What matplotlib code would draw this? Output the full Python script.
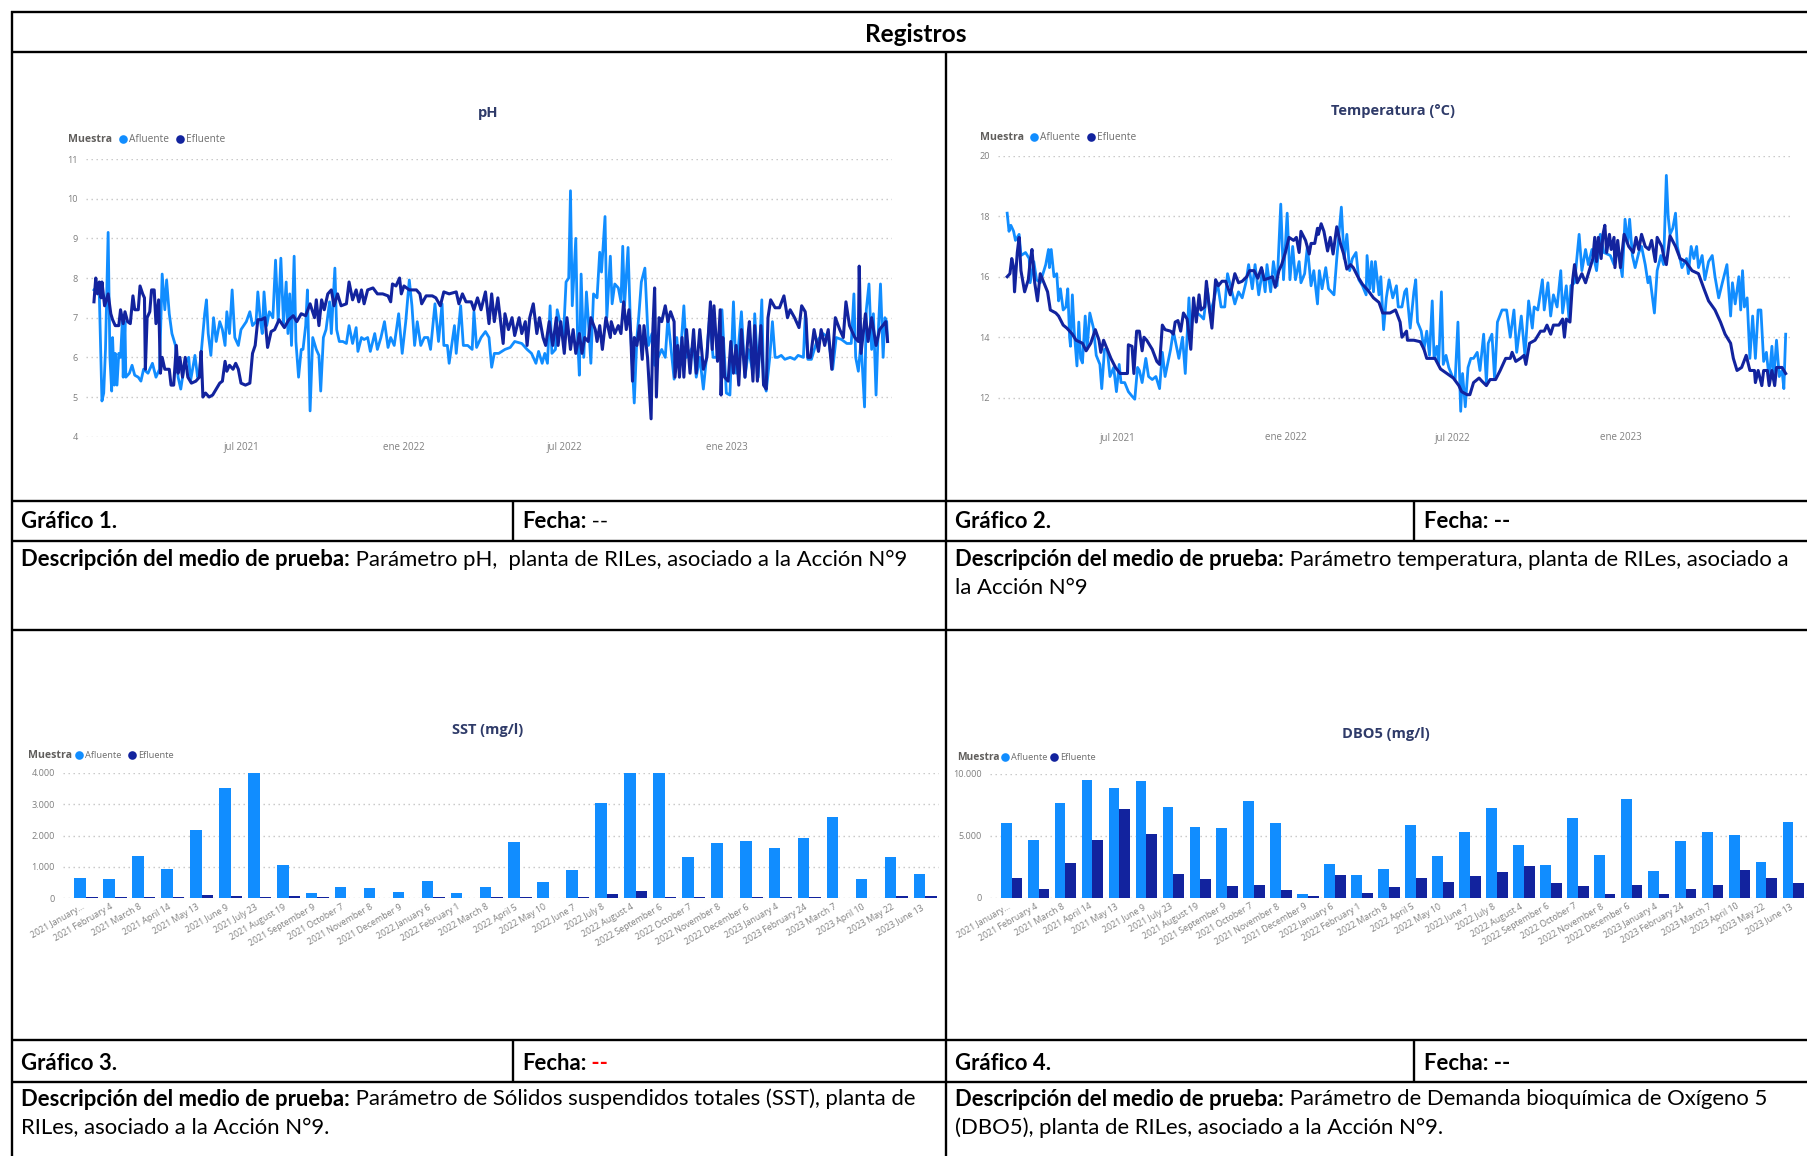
import datetime as dt
import matplotlib
matplotlib.use("Agg")
import matplotlib.pyplot as plt
import matplotlib.dates as mdates
from matplotlib.lines import Line2D
from matplotlib.transforms import ScaledTranslation
import numpy as np

W, H = 1808, 1156
BODY_FONT = ["Lato", "DejaVu Sans"]
UI_FONT = ["Open Sans", "DejaVu Sans"]
C_AFL = "#118DFF"
C_EFL = "#12239E"
C_TITLE = "#2F3B69"
C_TICK = "#7F7F7F"
C_GRID = "#C4C4C4"

# ---------- data ----------
ph_start = dt.date(2021, 1, 16)
ph_afl_days = [0,6,9,11,13,16,18,20,21,23,24,26,28,30,32,33,35,36,40,43,46,50,53,56,61,66,70,74,77,80,82,85,88,92,95,98,102,107,109,114,117,119,125,127,129,132,135,138,142,145,148,150,153,156,159,163,166,172,176,179,183,185,188,190,192,195,198,202,205,208,211,214,217,219,221,223,226,228,231,234,236,239,241,244,247,251,254,256,259,262,266,268,272,274,277,281,285,288,292,296,298,302,305,309,312,317,320,324,328,332,335,339,344,348,352,356,359,362,365,369,373,377,380,385,389,393,395,399,401,407,409,414,417,422,427,429,432,437,442,446,449,452,457,
464,470,475,483,489,494,499,502,506,509,512,515,517,521,523,526,530,533,536,538,540,544,546,548,550,553,556,558,561,564,568,571,573,577,579,583,585,588,592,595,597,599,603,606,610,613,615,618,622,626,630,633,637,641,645,648,652,655,658,661,666,669,677,680,684,688,692,695,699,703,709,714,718,722,725,731,735,739,744,746,750,754,756,759,763,766,769,772,776,780,786,791,795,801,803,806,810,816,823,829,834,838,844,850,855,858,860,863,866,870,872,875,878,880,883,885,888,891,893,895,896]
ph_afl_vals = [7.7,7.6,4.9,5.1,6.2,9.15,6.0,5.15,6.5,5.3,6.1,5.3,6.1,6.0,6.9,5.5,6.9,5.5,5.6,5.8,5.55,5.5,5.4,5.7,5.6,5.85,5.5,5.7,8.1,7.2,7.95,7.1,6.6,6.3,5.5,5.2,5.8,6.0,5.4,6.05,5.5,5.6,7.1,7.45,6.6,6.05,7.0,6.4,6.9,6.7,6.3,7.15,6.6,7.7,6.5,6.3,6.7,6.9,7.15,6.8,6.9,7.65,6.9,6.6,7.65,6.8,7.15,7.0,8.45,6.9,8.5,6.85,7.9,6.6,7.6,6.3,8.55,6.4,5.5,6.2,6.2,6.8,7.7,4.65,6.5,6.2,6.05,5.15,6.5,6.7,7.4,6.6,8.25,6.7,6.4,6.4,6.35,6.8,6.35,6.75,6.15,6.5,6.45,6.5,6.15,6.6,6.2,6.5,6.9,6.25,6.5,6.3,7.1,6.1,6.9,7.95,7.3,6.3,6.9,6.3,6.5,6.5,6.2,7.35,6.4,7.35,6.3,6.3,5.85,6.8,6.1,7.3,6.3,6.3,6.2,7.15,6.25,6.5,6.65,6.5,5.75,6.1,6.1,
6.2,6.25,6.4,6.35,6.2,6.1,5.85,6.15,5.85,6.1,5.85,7.3,6.1,6.2,7.2,6.9,6.5,7.9,8.0,10.2,7.3,9.0,6.5,5.55,8.1,6.0,7.65,7.0,5.85,7.6,7.5,8.65,8.15,9.55,7.0,8.55,7.35,7.85,7.75,7.4,8.8,7.3,8.77,6.6,4.85,6.5,7.0,7.9,8.25,6.3,6.6,5.8,6.0,6.2,6.0,7.0,6.1,5.45,6.5,5.7,7.3,6.0,6.3,5.5,6.0,5.2,6.1,7.0,6.0,6.0,7.2,5.1,5.05,7.4,5.6,7.15,5.5,6.2,5.6,7.1,5.5,7.45,5.4,5.15,6.0,6.9,6.0,6.0,6.05,5.95,6.0,5.95,6.05,6.0,7.05,5.95,5.95,6.4,6.6,6.5,5.7,6.5,6.45,6.35,6.35,7.6,6.0,5.65,6.4,4.75,7.2,7.85,6.2,7.1,5.05,6.4,7.85,6.0,7.0,6.9,6.4]
ph_efl_days = [0,2,4,6,8,9,12,16,19,21,24,28,30,33,35,38,41,44,46,50,52,55,57,58,60,63,65,68,70,73,75,77,80,85,87,90,93,95,97,100,103,106,110,115,119,121,123,126,130,134,138,142,145,148,150,153,157,160,163,166,171,176,179,182,185,189,193,196,200,204,209,215,220,225,229,234,239,244,249,251,254,257,260,264,268,271,275,279,285,288,292,296,299,302,305,309,315,320,326,332,335,337,341,345,347,350,356,364,368,370,375,382,386,391,395,401,409,412,416,420,426,429,433,437,442,446,449,452,456,
462,464,468,472,475,480,483,487,489,492,496,500,503,507,510,514,518,522,524,527,531,534,538,541,544,548,551,554,558,561,566,568,571,574,578,583,584,588,592,595,598,601,604,606,608,610,613,616,619,621,625,629,631,633,635,638,641,645,648,651,655,656,659,661,664,666,669,673,677,680,684,688,692,696,698,700,704,707,708,710,712,716,719,722,725,728,731,735,739,740,744,746,749,753,756,759,761,764,769,774,779,783,786,791,796,799,803,804,806,809,813,818,821,825,829,833,837,842,846,849,853,859,863,864,866,871,874,878,883,887,894,896]
ph_efl_vals = [7.4,8.0,7.6,7.9,7.5,7.9,7.3,7.6,7.1,6.95,6.8,6.8,7.2,6.85,7.15,6.9,6.85,7.55,7.2,7.2,7.8,7.6,7.5,5.7,7.0,7.15,7.7,7.7,6.85,7.45,5.6,6.0,5.7,5.7,5.3,5.3,6.3,5.6,6.0,5.5,6.0,5.5,5.35,5.4,5.5,6.15,5.0,5.1,5.0,5.05,5.2,5.35,5.4,5.9,5.65,5.8,5.7,5.85,5.7,5.35,5.3,5.35,6.1,6.3,6.95,6.95,7.0,6.25,6.65,6.7,6.95,6.75,6.95,7.05,6.9,7.1,7.05,7.35,7.0,7.45,6.8,7.45,7.2,7.6,7.7,7.3,7.6,7.3,7.35,7.9,7.45,7.7,7.4,7.7,7.35,7.7,7.75,7.6,7.6,7.55,7.4,7.85,7.8,8.0,7.6,7.8,7.7,7.7,7.6,7.35,7.55,7.55,7.5,7.3,7.65,7.6,7.65,7.35,7.6,7.4,7.4,7.2,7.5,7.2,7.65,6.85,7.6,6.9,7.5,
6.35,7.1,6.7,7.0,6.55,7.0,6.6,6.9,6.3,7.0,7.35,6.6,7.0,6.5,6.3,6.9,6.3,7.0,6.3,6.9,6.1,7.0,6.2,6.7,6.1,6.6,6.1,6.5,6.4,7.0,6.7,6.4,6.8,6.2,7.0,6.5,6.9,6.6,6.8,6.6,7.4,6.7,7.2,6.6,5.4,6.5,6.3,6.8,5.95,6.8,6.0,4.45,6.7,7.75,5.0,7.0,6.9,7.3,6.9,7.15,6.9,5.5,6.3,5.5,6.5,5.5,6.7,5.6,6.7,5.6,6.7,5.7,6.0,7.4,6.2,7.3,5.9,7.2,5.05,6.5,5.5,5.4,6.4,5.6,6.3,5.3,6.7,5.5,6.7,6.9,5.4,6.8,5.4,6.8,5.3,5.2,7.0,7.45,7.25,7.25,7.55,7.0,7.2,7.0,6.75,7.3,7.15,6.95,6.0,6.0,6.7,6.15,6.7,6.3,6.7,5.7,7.0,6.7,6.5,7.4,6.8,6.5,6.4,8.3,6.1,7.1,6.4,7.0,6.3,6.7,6.9,6.4]
ph_ticks = ["4", "5", "6", "7", "8", "9", "10", "11"]

temp_start = dt.date(2021, 3, 3)
temp_afl_days = [0,2,4,7,9,13,15,20,24,25,29,32,36,40,42,45,46,48,51,54,56,58,61,64,66,68,69,71,73,76,78,80,82,85,87,90,94,97,101,103,106,109,112,116,119,122,124,128,132,136,139,142,144,147,151,154,158,162,166,169,172,178,181,187,191,194,198,200,203,207,211,214,218,221,225,229,233,237,240,244,248,252,256,260,263,267,270,274,278,281,283,287,290,294,298,301,305,308,311,314,318,320,324,327,331,334,338,340,343,347,350,356,359,364,367,370,373,376,380,383,387,391,392,395,397,399,401,405,407,410,413,416,
420,424,426,430,433,435,439,443,445,447,451,454,457,460,463,465,468,470,473,475,478,481,485,488,491,494,496,499,502,505,508,512,515,519,522,524,528,531,534,539,544,548,552,555,560,564,568,572,574,578,583,585,589,592,595,599,603,605,609,612,614,618,623,626,630,633,637,642,646,650,657,661,665,670,673,676,678,681,684,688,691,695,698,700,705,708,712,715,718,720,722,725,728,730,735,740,742,745,748,751,753,757,760,764,768,771,775,779,784,788,790,793,797,799,801,803,806,809,812,815,818,821,824,827,830,833,835,838,841,844,846,848]
temp_afl_vals = [18.1,17.5,17.7,17.5,17.2,17.4,16.7,16.8,16.6,15.8,16.5,15.9,15.8,16.2,16.4,16.9,16.3,16.9,16.0,16.1,15.2,15.6,14.9,15.0,15.6,14.0,13.7,15.4,14.2,13.05,14.5,13.3,13.15,14.7,13.6,14.8,14.3,13.4,13.1,12.3,13.6,13.6,12.7,13.0,12.2,13.1,12.5,12.5,12.2,12.05,11.95,13.0,12.9,12.5,13.3,12.7,12.6,12.7,12.3,13.5,12.7,13.6,14.2,13.3,14.0,12.8,15.3,14.1,15.0,14.8,14.7,14.6,15.6,14.8,15.2,15.8,15.0,15.0,16.1,15.6,15.1,15.5,15.3,15.8,16.4,15.6,16.4,15.4,16.2,15.5,16.4,15.5,16.5,15.7,18.4,15.9,18.1,15.9,17.0,15.9,16.5,15.8,16.1,17.0,15.7,16.2,15.1,16.2,15.6,16.3,15.6,15.4,16.6,18.3,16.6,17.4,16.2,16.6,16.8,15.9,15.7,15.4,16.7,15.6,16.5,15.5,16.5,15.4,16.0,14.25,15.3,15.9,
15.3,15.7,15.0,15.0,15.5,15.6,14.3,15.5,15.9,14.5,14.2,13.6,14.2,13.4,15.2,13.3,13.7,13.1,15.5,13.1,13.4,13.0,12.7,12.6,14.5,11.55,12.8,11.7,13.0,13.3,13.3,13.5,12.9,14.1,12.5,13.8,14.1,12.6,14.5,14.9,14.9,14.0,14.9,13.5,14.7,13.4,15.2,14.3,15.0,14.9,15.9,14.9,15.8,14.7,15.4,15.0,16.2,14.8,15.7,14.6,15.7,15.8,17.4,16.2,16.9,16.4,16.9,16.2,17.4,16.8,16.7,16.4,17.0,16.0,17.9,17.1,17.9,16.7,16.3,16.8,17.0,16.4,15.8,16.0,14.8,16.2,16.7,16.4,19.35,18.0,17.4,17.6,18.1,17.0,16.3,16.6,16.1,17.0,16.6,17.0,16.3,16.7,15.9,16.5,16.7,16.0,15.3,15.8,16.4,14.7,15.8,15.1,16.0,14.9,16.2,15.0,15.3,13.3,14.7,13.3,14.9,14.9,13.2,13.5,12.6,13.7,12.6,13.9,12.7,12.9,12.3,14.1]
temp_efl_days = [0,3,5,7,8,11,13,15,19,23,25,27,30,33,36,40,44,47,53,56,61,65,71,75,82,86,91,96,100,102,105,109,113,118,123,131,132,136,138,141,144,147,149,152,158,163,166,169,172,178,181,183,186,189,192,196,200,203,206,209,211,215,217,220,223,227,230,234,238,243,248,252,256,261,264,269,273,277,280,285,289,292,296,299,303,307,312,315,318,320,325,329,331,335,338,339,342,345,349,352,355,359,363,367,370,374,377,382,387,393,399,405,409,417,
423,428,430,435,436,443,450,454,457,466,472,479,486,492,495,501,504,508,514,517,522,526,532,537,543,548,550,554,559,563,565,569,575,581,585,588,592,595,601,605,607,609,613,616,618,621,626,630,634,638,640,642,644,647,649,651,653,656,658,661,662,665,668,672,677,682,685,688,691,695,699,702,706,708,713,715,718,722,728,733,739,746,753,759,764,771,777,782,788,791,795,800,805,809,814,815,818,822,824,828,830,833,836,838,844,848]
temp_efl_vals = [16.0,16.1,16.6,16.3,15.5,16.8,17.3,16.2,15.5,15.9,16.5,16.9,15.8,15.2,16.1,15.8,15.5,14.9,14.8,14.7,14.4,14.3,14.1,13.9,13.8,13.55,13.8,14.25,13.9,13.5,13.9,13.6,13.3,13.0,12.8,12.8,13.75,13.7,12.8,14.2,14.2,13.55,14.0,13.9,13.6,13.2,13.1,14.4,14.25,14.2,14.1,14.5,14.55,14.2,14.8,14.6,13.6,15.3,14.5,15.4,14.9,15.0,15.85,15.0,14.3,15.9,15.7,15.85,15.85,15.4,16.1,15.8,15.85,16.0,16.2,16.2,15.95,16.3,15.9,15.95,16.0,15.65,16.2,16.4,16.8,17.3,17.2,17.3,16.8,17.5,17.2,16.75,17.1,17.1,17.6,17.4,17.75,17.5,16.85,17.3,16.75,17.65,17.1,16.7,16.25,16.4,16.3,16.0,15.75,15.55,15.3,15.15,14.8,14.8,
14.9,14.5,14.0,14.2,13.9,13.9,13.85,13.6,13.3,13.3,12.95,12.8,12.65,12.4,12.2,12.1,12.1,12.5,12.65,12.55,12.4,12.6,12.6,12.9,13.3,13.3,13.5,13.2,13.3,13.4,13.1,13.8,13.9,14.2,14.2,14.4,14.1,14.4,14.4,14.6,14.0,14.6,14.5,15.9,16.4,15.8,16.1,15.8,16.2,16.6,17.3,16.5,17.3,16.6,17.4,17.7,16.8,17.4,16.9,17.3,16.3,17.2,16.3,17.4,17.0,16.8,17.3,16.9,17.4,17.0,16.9,17.2,16.5,17.3,17.0,16.7,16.4,17.35,17.0,16.6,16.5,16.2,16.1,15.6,15.2,14.9,14.5,14.1,13.8,13.3,12.9,13.0,13.4,12.9,12.9,12.5,12.9,12.4,12.9,12.9,12.4,12.9,12.4,13.0,13.0,12.8]
temp_ticks = ["12", "14", "16", "18", "20"]

sample_dates = ["2021 January...", "2021 February 4", "2021 March 8", "2021 April 14", "2021 May 13",
                "2021 June 9", "2021 July 23", "2021 August 19", "2021 September 9", "2021 October 7",
                "2021 November 8", "2021 December 9", "2022 January 6", "2022 February 1", "2022 March 8",
                "2022 April 5", "2022 May 10", "2022 June 7", "2022 July 8", "2022 August 4",
                "2022 September 6", "2022 October 7", "2022 November 8", "2022 December 6", "2023 January 4",
                "2023 February 24", "2023 March 7", "2023 April 10", "2023 May 22", "2023 June 13"]
sst_afl = [650,610,1350,950,2170,3520,4000,1060,160,360,330,190,550,160,370,1800,520,910,3030,4000,4000,1330,1780,1830,1600,1910,2600,630,1310,780]
sst_efl = [30,30,30,40,90,70,50,60,40,20,20,20,40,20,40,40,15,40,130,220,50,30,20,50,50,40,20,15,70,60]
sst_ticks = ["0", "1.000", "2.000", "3.000", "4.000"]
dbo_afl = [5990,4650,7600,9490,8870,9380,7280,5730,5650,7800,5990,300,2740,1850,2340,5860,3390,5270,7260,4270,2660,6400,3470,7960,2150,4600,5320,5080,2900,6130]
dbo_efl = [1560,700,2800,4620,7120,5100,1900,1530,940,1050,650,130,1850,350,830,1590,1260,1750,2070,2580,1160,940,320,1020,320,670,1000,2200,1610,1160]
dbo_ticks = ["0", "5.000", "10.000"]

line_ticks = [dt.date(2021, 7, 1), dt.date(2022, 1, 1), dt.date(2022, 7, 1), dt.date(2023, 1, 1)]
line_tick_labels = ["jul 2021", "ene 2022", "jul 2022", "ene 2023"]

# ---------- helpers ----------
fig = plt.figure(figsize=(W / 100, H / 100), dpi=100, facecolor="white")
rend = fig.canvas.get_renderer()

def fx(x): return x / W
def fy(y): return 1 - y / H

def px_axes(left, top, right, bottom):
    ax = fig.add_axes([fx(left), fy(bottom), (right - left) / W, (bottom - top) / H])
    ax.set_facecolor("none")
    for s in ax.spines.values():
        s.set_visible(False)
    ax.tick_params(length=0, labelcolor=C_TICK)
    ax.tick_params(axis="y", labelsize=6.6, pad=5.8)
    ax.tick_params(axis="x", labelsize=7)
    ax.grid(axis="y", color=C_GRID, lw=1.0, linestyle=(0, (1, 2.6)))
    ax.set_axisbelow(True)
    return ax

def style_ticks(ax):
    for t in ax.get_xticklabels() + ax.get_yticklabels():
        t.set_fontfamily(UI_FONT)

def hline(y, x0, x1):
    fig.add_artist(Line2D([fx(x0), fx(x1)], [fy(y), fy(y)], color="black", lw=1.7, solid_capstyle="butt"))

def vline(x, y0, y1):
    fig.add_artist(Line2D([fx(x), fx(x)], [fy(y0), fy(y1)], color="black", lw=1.7, solid_capstyle="butt"))

def text_width(s, size, weight):
    def w(v):
        t = fig.text(0, 0, v, fontsize=size, fontweight=weight, family=BODY_FONT)
        b = t.get_window_extent(rend).width
        t.remove()
        return b
    return w("|" + s + "|") - w("||")

def run_text(x, y, parts, size=15.9):
    for s, weight, col in parts:
        fig.text(fx(x), fy(y), s, fontsize=size, fontweight=weight, color=col,
                 family=BODY_FONT, ha="left", va="center_baseline")
        x += text_width(s, size, weight)

def legend(xm, y, xa, xe, size_m, size_t):
    fig.text(fx(xm), fy(y), "Muestra", fontsize=size_m, fontweight="bold", color="#605E5C",
             family=UI_FONT, va="center", ha="left")
    for cx, col, name in ((xa, C_AFL, "Afluente"), (xe, C_EFL, "Efluente")):
        fig.add_artist(Line2D([fx(cx)], [fy(y)], marker="o", ms=6.2, color=col, mew=0, ls="none"))
        fig.text(fx(cx + 6), fy(y), name, fontsize=size_t, color="#6E6E6E", family=UI_FONT, va="center", ha="left")

def chart_title(s, x, y):
    fig.text(fx(x), fy(y), s, fontsize=10.5, fontweight="bold", color=C_TITLE,
             family=UI_FONT, ha="center", va="center")

def line_chart(rect, start, adays, avals, edays, evals, ticks, ylim, yvals, xlim_days, pad):
    ax = px_axes(*rect)
    ad = [mdates.date2num(start + dt.timedelta(days=d)) for d in adays]
    ed = [mdates.date2num(start + dt.timedelta(days=d)) for d in edays]
    ax.plot(ad, avals, color=C_AFL, lw=2.0, solid_joinstyle="round", zorder=3)
    ax.plot(ed, evals, color=C_EFL, lw=2.2, solid_joinstyle="round", zorder=4)
    base = mdates.date2num(start)
    ax.set_xlim(base + xlim_days[0], base + xlim_days[1])
    ax.set_ylim(*ylim)
    ax.set_yticks(yvals, ticks)
    ax.set_xticks([mdates.date2num(d) for d in line_ticks], line_tick_labels)
    ax.tick_params(axis="x", pad=pad)
    style_ticks(ax)
    return ax

def bar_chart(rect, afl, efl, ticks, yvals, xlim, ymax, label_shift):
    ax = px_axes(*rect)
    x = np.arange(len(sample_dates))
    ax.bar(x - 0.2, afl, width=0.4, color=C_AFL, zorder=3)
    ax.bar(x + 0.2, efl, width=0.4, color=C_EFL, zorder=3)
    ax.set_xlim(*xlim)
    ax.set_ylim(0, ymax)
    ax.set_yticks(yvals, ticks)
    ax.set_xticks(x, sample_dates, rotation=30, ha="right", rotation_mode="anchor", fontsize=6.3)
    ax.tick_params(axis="x", pad=3)
    shift = ScaledTranslation(label_shift / 100, 0, fig.dpi_scale_trans)
    for t in ax.get_xticklabels():
        t.set_transform(t.get_transform() + shift)
    style_ticks(ax)
    return ax

# ---------- table frame ----------
hline(11.5, 11, W)
hline(52, 12, W)
hline(500.5, 12, W)
hline(541, 12, W)
hline(630, 12, W)
hline(1040, 12, W)
hline(1081.5, 12, W)
vline(12, 11, H)
vline(946, 52, H)
vline(513, 500.5, 541)
vline(1414, 500.5, 541)
vline(513, 1040, 1081.5)
vline(1414, 1040, 1081.5)

fig.text(fx(916), fy(32.5), "Registros", fontsize=17.6, fontweight="bold", family=BODY_FONT,
         ha="center", va="center_baseline", color="black")

BK = "black"
run_text(21, 520, [("Gráfico 1.", "bold", BK)])
run_text(522, 520, [("Fecha:", "bold", BK), (" --", "normal", BK)])
run_text(955, 520, [("Gráfico 2.", "bold", BK)])
run_text(1424, 520, [("Fecha: --", "bold", BK)])
run_text(21, 558, [("Descripción del medio de prueba:", "bold", BK),
                   (" Parámetro pH,  planta de RILes, asociado a la Acción N°9", "normal", BK)])
run_text(955, 558, [("Descripción del medio de prueba:", "bold", BK),
                    (" Parámetro temperatura, planta de RILes, asociado a", "normal", BK)])
run_text(955, 586, [("la Acción N°9", "normal", BK)])
run_text(21, 1062, [("Gráfico 3.", "bold", BK)])
run_text(522, 1062, [("Fecha:", "bold", BK), (" --", "bold", "#FF0000")])
run_text(955, 1062, [("Gráfico 4.", "bold", BK)])
run_text(1424, 1062, [("Fecha: --", "bold", BK)])
run_text(21, 1097, [("Descripción del medio de prueba:", "bold", BK),
                    (" Parámetro de Sólidos suspendidos totales (SST), planta de", "normal", BK)])
run_text(21, 1126, [("RILes, asociado a la Acción N°9.", "normal", BK)])
run_text(955, 1097, [("Descripción del medio de prueba:", "bold", BK),
                     (" Parámetro de Demanda bioquímica de Oxígeno 5", "normal", BK)])
run_text(955, 1126, [("(DBO5), planta de RILes, asociado a la Acción N°9.", "normal", BK)])

# ---------- charts ----------
chart_title("pH", 488, 113)
legend(68, 139, 123, 180, 7.6, 7.3)
line_chart((86, 159, 892, 436.7), ph_start, ph_afl_days, ph_afl_vals, ph_efl_days, ph_efl_vals,
           ph_ticks, (4, 11), [4, 5, 6, 7, 8, 9, 10, 11], (-9, 901), 3.5)

chart_title("Temperatura (°C)", 1393, 111)
legend(980, 137, 1034, 1091, 7.6, 7.3)
line_chart((998, 155.7, 1790, 420), temp_start, temp_afl_days, temp_afl_vals, temp_efl_days, temp_efl_vals,
           temp_ticks, (11.263, 20), [12, 14, 16, 18, 20], (-10, 852.7), 9)

chart_title("SST (mg/l)", 488, 730)
legend(28, 755, 79, 132, 7.6, 6.7)
bar_chart((63, 773, 939, 898.3), sst_afl, sst_efl, sst_ticks, [0, 1000, 2000, 3000, 4000], (-0.795, 29.48), 4000, -5)

chart_title("DBO5 (mg/l)", 1386, 734)
legend(957, 757, 1005, 1054, 7.4, 6.7)
bar_chart((990, 773.7, 1808, 897.7), dbo_afl, dbo_efl, dbo_ticks, [0, 5000, 10000], (-0.8, 29.54), 10000, -4)

fig.savefig("out.png", dpi=100, facecolor="white")
